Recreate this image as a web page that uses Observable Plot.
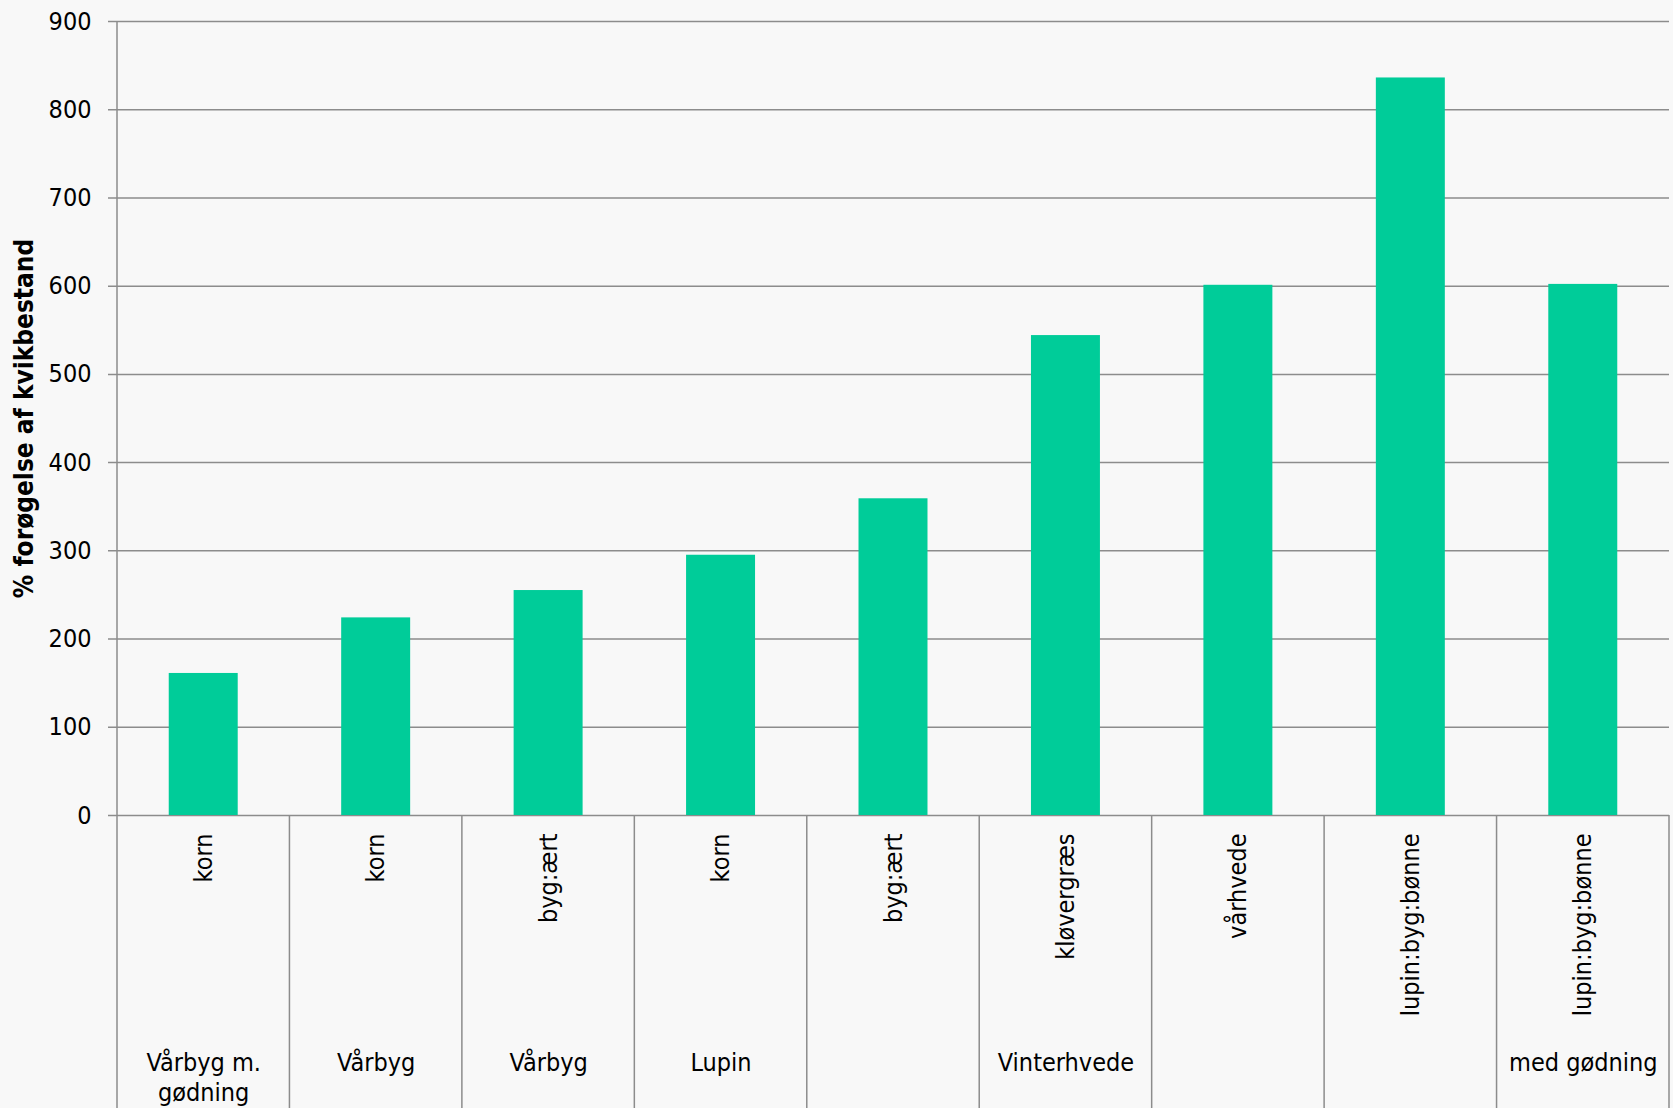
<!DOCTYPE html>
<html><head><meta charset="utf-8">
<script src="https://cdn.jsdelivr.net/npm/d3@7"></script>
<script src="https://cdn.jsdelivr.net/npm/@observablehq/plot@0.6"></script>
<style>
html,body{margin:0;padding:0;background:#f8f8f8;}
#chart svg{display:block;}
</style></head><body><div id="chart"></div>
<script>
const crops = ["korn","korn","byg:ært","korn","byg:ært","kløvergræs","vårhvede","lupin:byg:bønne","lupin:byg:bønne"];
const groups = ["Vårbyg m.\ngødning","Vårbyg","Vårbyg","Lupin","","Vinterhvede","","","med gødning"];
const values = [161,224,255,295,359,544,601,836,602];
const yTicks = [0,100,200,300,400,500,600,700,800,900];
const yLabel = "% forøgelse af kvikbestand";

const data = values.map((v,i)=>({id:i, crop:crops[i], group:groups[i], value:v}));
const ids = data.map(d=>d.id);

const FONT = "'DejaVu Sans Condensed', 'DejaVu Sans', sans-serif";
const GRID = "#8c8c8c";

function separators(index, scales, values, dims) {
  const x = scales.x;
  const n = ids.length;
  const step = x.step ? x.step() : (dims.width - dims.marginLeft - dims.marginRight)/n;
  const bw = x.bandwidth ? x.bandwidth() : step*0.4;
  const g = d3.create("svg:g");
  const y0 = dims.height - dims.marginBottom;
  for (let k=0;k<=n;k++){
    const cx = k<n ? x(ids[k]) + bw/2 - step/2 : x(ids[n-1]) + bw/2 + step/2;
    g.append("line").attr("x1",cx).attr("x2",cx)
      .attr("y1", k===0 ? dims.marginTop : y0).attr("y2", dims.height)
      .attr("stroke",GRID).attr("stroke-width",1.5);
  }
  return g.node();
}

const chart = Plot.plot({
  width:1673, height:1108,
  marginLeft:117, marginRight:4, marginTop:21, marginBottom:293,
  style:{background:"#f8f8f8", fontFamily:FONT, fontSize:"25px", color:"#000", fontStretch:"condensed"},
  x:{type:"band", domain:ids, paddingInner:0.6, paddingOuter:0.3, round:false, axis:null},
  y:{domain:[0,900], axis:null},
  marks:[
    Plot.ruleY(yTicks, {stroke:GRID, strokeWidth:1.5, insetLeft:-9, strokeOpacity:1}),
    Plot.axisY(yTicks,{tickSize:0, tickPadding:26, label:null, fontSize:25}),
    Plot.barY(data,{x:"id", y:"value", fill:"#00cc99"}),
    separators,
    Plot.text(data,{x:"id", text:"crop", frameAnchor:"bottom", dy:18, dx:8, rotate:-90, textAnchor:"end", fontSize:25}),
    Plot.text(data,{x:"id", text:"group", frameAnchor:"bottom", dy:234, lineAnchor:"top", lineHeight:1.2, fontSize:25}),
    Plot.text([yLabel],{frameAnchor:"left", dx:-93, rotate:-90, textAnchor:"middle", fontWeight:"bold", fontSize:26, text:d=>d})
  ]
});
document.getElementById("chart").appendChild(chart);
</script></body></html>
